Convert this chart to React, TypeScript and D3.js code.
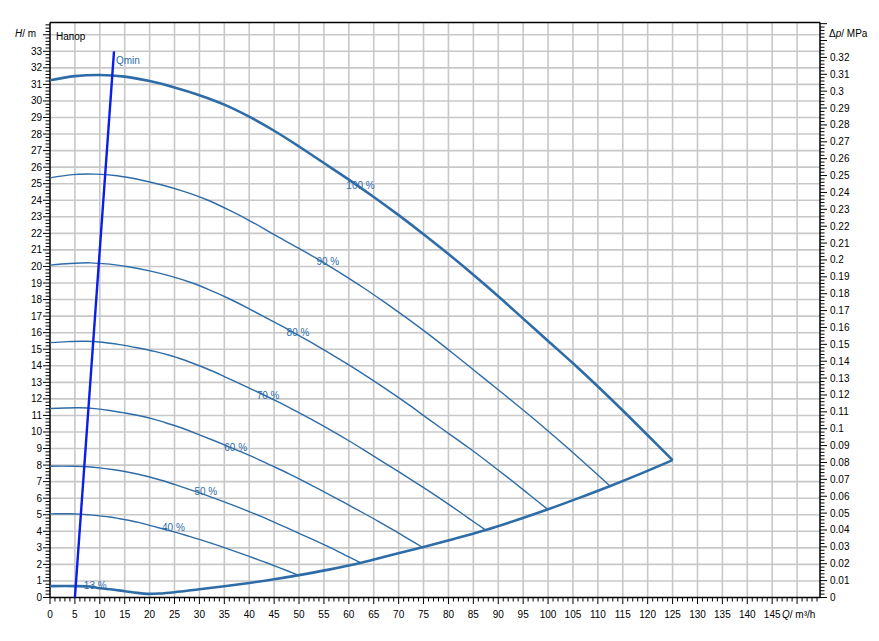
import React from "react";
import * as d3 from "d3";

// ---- data ----
const q100 = [0, 5, 10, 15, 20, 25, 30, 35, 40, 45, 50, 55, 60, 65, 70, 75, 80, 85, 90, 95, 100, 105, 110, 115, 120, 125];
const h100 = [31.25, 31.5, 31.57, 31.47, 31.2, 30.82, 30.35, 29.78, 29.05, 28.2, 27.25, 26.25, 25.25, 24.2, 23.1, 21.95, 20.75, 19.5, 18.2, 16.85, 15.5, 14.15, 12.75, 11.3, 9.8, 8.3];

const q90 = [0, 4.5, 9, 13.5, 18, 22.5, 27, 31.5, 36, 40.5, 45, 49.5, 54, 58.5, 63, 67.5, 72, 76.5, 81, 85.5, 90, 94.5, 99, 103.5, 108, 112.5];
const h90 = [25.35, 25.55, 25.58, 25.48, 25.24, 24.92, 24.52, 24.03, 23.4, 22.7, 21.92, 21.17, 20.4, 19.57, 18.7, 17.77, 16.8, 15.79, 14.73, 13.64, 12.55, 11.45, 10.32, 9.15, 7.94, 6.72];

const q80 = [0, 4, 8, 12, 16, 20, 24, 28, 32, 36, 40, 44, 48, 52, 56, 60, 64, 68, 72, 76, 80, 84, 88, 92, 96, 100];
const h80 = [20.08, 20.18, 20.22, 20.14, 19.97, 19.73, 19.43, 19.06, 18.59, 18.05, 17.44, 16.8, 16.16, 15.49, 14.78, 14.05, 13.28, 12.48, 11.65, 10.78, 9.92, 9.06, 8.16, 7.23, 6.27, 5.31];

const q70 = [0, 3.5, 7, 10.5, 14, 17.5, 21, 24.5, 28, 31.5, 35, 38.5, 42, 45.5, 49, 52.5, 56, 59.5, 63, 66.5, 70, 73.5, 77, 80.5, 84, 87.5];
const h70 = [15.4, 15.46, 15.48, 15.42, 15.28, 15.09, 14.87, 14.59, 14.23, 13.82, 13.35, 12.86, 12.37, 11.86, 11.32, 10.76, 10.17, 9.56, 8.92, 8.26, 7.6, 6.93, 6.25, 5.54, 4.8, 4.07];

const q60 = [0, 3, 6, 9, 12, 15, 18, 21, 24, 27, 30, 33, 36, 39, 42, 45, 48, 51, 54, 57, 60, 63, 66, 69, 72, 75];
const h60 = [11.42, 11.45, 11.46, 11.41, 11.3, 11.15, 10.98, 10.76, 10.48, 10.18, 9.83, 9.47, 9.1, 8.72, 8.32, 7.9, 7.47, 7.02, 6.55, 6.07, 5.58, 5.09, 4.59, 4.07, 3.53, 2.99];

const q50 = [0, 2.5, 5, 7.5, 10, 12.5, 15, 17.5, 20, 22.5, 25, 27.5, 30, 32.5, 35, 37.5, 40, 42.5, 45, 47.5, 50, 52.5, 55, 57.5, 60, 62.5];
const h50 = [7.93, 7.94, 7.93, 7.9, 7.83, 7.73, 7.61, 7.46, 7.28, 7.07, 6.83, 6.58, 6.32, 6.05, 5.78, 5.49, 5.19, 4.88, 4.55, 4.22, 3.88, 3.54, 3.19, 2.83, 2.45, 2.08];

const q40 = [0, 2, 4, 6, 8, 10, 12, 14, 16, 18, 20, 22, 24, 26, 28, 30, 32, 34, 36, 38, 40, 42, 44, 46, 48, 50];
const h40 = [5.05, 5.06, 5.06, 5.04, 4.99, 4.93, 4.86, 4.76, 4.65, 4.52, 4.36, 4.2, 4.04, 3.87, 3.69, 3.51, 3.32, 3.12, 2.91, 2.7, 2.48, 2.26, 2.04, 1.81, 1.57, 1.33];

// 13 % curve joined with the end-of-curve envelope
const qLow = [0, 5, 8, 10, 12.5, 15, 17.5, 19.5, 22, 25, 30, 35, 40, 45, 50, 56.25, 62.5, 68.75, 75, 81.25, 87.5, 93.75, 100, 106.25, 112.5, 118.75, 125];
const hLow = [0.69, 0.69, 0.66, 0.56, 0.48, 0.38, 0.28, 0.22, 0.24, 0.32, 0.5, 0.68, 0.88, 1.1, 1.35, 1.7, 2.1, 2.58, 3.05, 3.55, 4.08, 4.68, 5.33, 6.02, 6.74, 7.5, 8.3];

const qMinQ = [5, 12.85];
const qMinH = [0, 33];

const speedLabels = ["100 %", "90 %", "80 %", "70 %", "60 %", "50 %", "40 %", "13 %"];
const labelQ = [59.5, 53.5, 47.5, 41.5, 35, 29, 22.5, 6.8];
const labelH = [24.9, 20.3, 16.0, 12.2, 9.05, 6.4, 4.2, 0.7];

const xTickValues = d3.range(0, 146, 5);
const yTickValues = d3.range(0, 34, 1);
const pTickValues = d3.range(0, 0.325, 0.01);

// ---- layout ----
const W = 879, H = 641;
const left = 50, right = 820, top = 22.5, bottom = 597.5;
const HMAX = 34.74;
const MPA_TO_M = 101.97;

const x = d3.scaleLinear().domain([0, 154.6]).range([left, right]);
const y = d3.scaleLinear().domain([0, HMAX]).range([bottom, top]);
const yp = d3.scaleLinear().domain([0, HMAX / MPA_TO_M]).range([bottom, top]);

const CURVE = "#2e6ca8";
const FONT = "'Liberation Sans', Arial, sans-serif";

function mk(qs: number[], hs: number[]) {
  return qs.map((q, i) => [q, hs[i]] as [number, number]);
}
const line = d3.line<[number, number]>().x(d => x(d[0])).y(d => y(d[1])).curve(d3.curveCatmullRom.alpha(0.5));
const straight = d3.line<[number, number]>().x(d => x(d[0])).y(d => y(d[1]));

export default function App() {
  const thin = [mk(q90, h90), mk(q80, h80), mk(q70, h70), mk(q60, h60), mk(q50, h50), mk(q40, h40)];
  const xMinor = d3.range(0, 155, 1);
  const yMinor = d3.range(0, 34.7, 0.2);
  const pMinor = d3.range(0, 0.3406, 0.002);
  const gridX = d3.range(5, 155, 5);
  const gridY = d3.range(1, 35, 1);
  return (
    <svg width={W} height={H} style={{ position: "absolute", left: 0, top: 0, background: "#fff" }} fontFamily={FONT}>
      <rect x={0} y={0} width={W} height={H} fill="#fff" />
      {/* grid */}
      <g stroke="#c8c8c8" strokeWidth={1.6}>
        {gridX.map(v => <line key={"gx" + v} x1={x(v)} x2={x(v)} y1={top} y2={bottom} />)}
        {gridY.map(v => <line key={"gy" + v} x1={left} x2={right} y1={y(v)} y2={y(v)} />)}
      </g>
      {/* frame */}
      <g stroke="#000" strokeWidth={1.5} fill="none">
        <line x1={left} x2={right} y1={top} y2={top} />
        <line x1={left} x2={right} y1={bottom} y2={bottom} />
        <line x1={left} x2={left} y1={top} y2={bottom} />
        <line x1={right} x2={right} y1={top} y2={bottom} />
      </g>
      {/* ticks */}
      <g stroke="#000" strokeWidth={1}>
        {xMinor.map(v => (
          <line key={"xm" + v} x1={x(v)} x2={x(v)} y1={bottom} y2={bottom + (v % 5 === 0 ? 6.5 : 4)} />
        ))}
        {yMinor.map((v, i) => (
          <line key={"ym" + i} x1={left - (i % 5 === 0 ? 7 : 4.5)} x2={left} y1={y(v)} y2={y(v)} />
        ))}
        {pMinor.map((v, i) => (
          <line key={"pm" + i} x1={right} x2={right + (i % 5 === 0 ? 7 : 4.5)} y1={yp(v)} y2={yp(v)} />
        ))}
      </g>
      {/* tick labels */}
      <g fontSize={10} fill="#000">
        {xTickValues.map(v => (
          <text key={"xt" + v} x={x(v)} y={618} textAnchor="middle">{v}</text>
        ))}
        {yTickValues.map(v => (
          <text key={"yt" + v} x={42} y={y(v)} dy="0.35em" textAnchor="end">{v}</text>
        ))}
        {pTickValues.map((v, i) => (
          <text key={"pt" + i} x={830} y={yp(v)} dy="0.35em">{String(+v.toFixed(2))}</text>
        ))}
        <text x={15} y={37}><tspan fontStyle="italic">H</tspan>/ m</text>
        <text x={829} y={37}>Δ<tspan fontStyle="italic">p</tspan>/ MPa</text>
        <text x={782} y={618}><tspan fontStyle="italic">Q</tspan>/ m³/h</text>
        <text x={56} y={39.5}>Напор</text>
      </g>
      {/* curves */}
      <g fill="none" stroke={CURVE} strokeLinejoin="round">
        {thin.map((d, i) => <path key={"c" + i} d={line(d) || ""} strokeWidth={1.4} />)}
        <path d={line(mk(q100, h100)) || ""} strokeWidth={2.6} />
        <path d={line(mk(qLow, hLow)) || ""} strokeWidth={2.6} />
      </g>
      <path d={straight(mk(qMinQ, qMinH)) || ""} fill="none" stroke="#0a1ee6" strokeWidth={2.4} />
      <g fontSize={10} fill={CURVE}>
        {speedLabels.map((t, i) => (
          <text key={t} x={x(labelQ[i])} y={y(labelH[i])} dy="0.35em">{t}</text>
        ))}
        <text x={116} y={64}>Qmin</text>
      </g>
    </svg>
  );
}
